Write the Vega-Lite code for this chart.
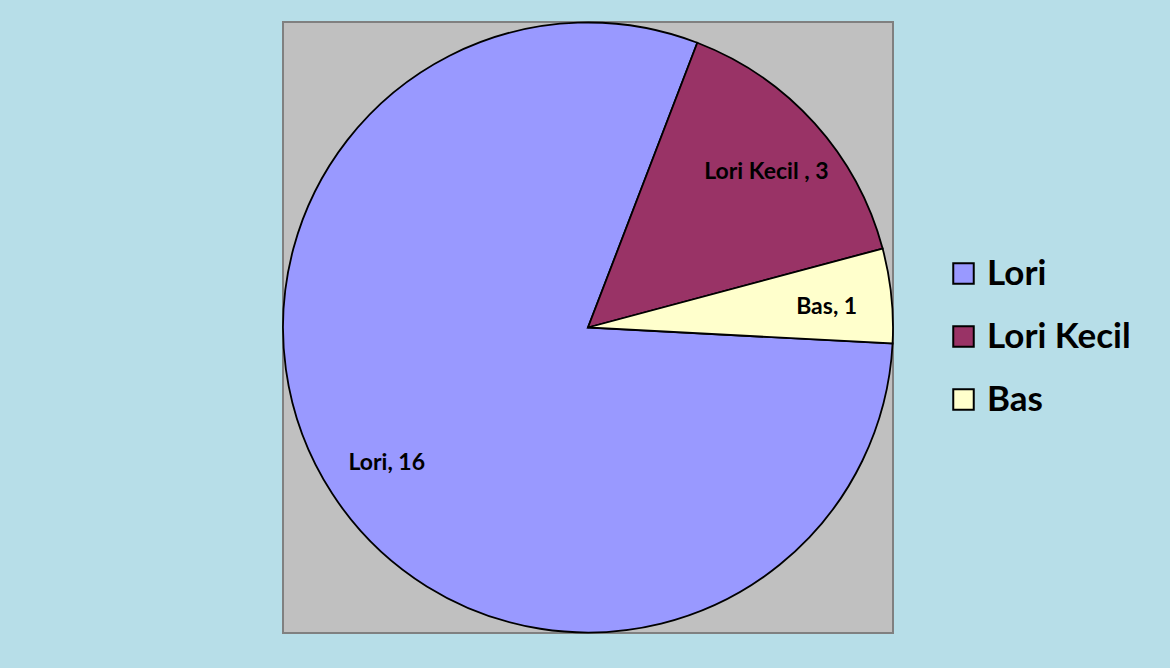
{
  "$schema": "https://vega.github.io/schema/vega-lite/v6.json",
  "autosize": {"type": "none"},
  "width": 610,
  "height": 611,
  "padding": {"left": 283, "top": 22, "right": 277, "bottom": 35},
  "background": "#B7DEE8",
  "view": {"fill": "#C0C0C0", "stroke": "#808080", "strokeWidth": 2},
  "config": {
    "view": {"fill": "#C0C0C0", "stroke": "#808080", "strokeWidth": 2},
    "font": "Lato"
  },
  "data": {
    "values": [
      {"kind": "Lori", "count": 16, "ord": 1, "label": "Lori, 16"},
      {"kind": "Lori Kecil", "count": 3, "ord": 2, "label": "Lori Kecil , 3"},
      {"kind": "Bas", "count": 1, "ord": 3, "label": "Bas, 1"}
    ]
  },
  "encoding": {
    "theta": {"field": "count", "type": "quantitative", "stack": true, "scale": {"range": [1.6232, 7.9064]}},
    "order": {"field": "ord", "type": "quantitative"}
  },
  "layer": [
    {
      "mark": {"type": "arc", "stroke": "#000000", "strokeWidth": 1.8},
      "encoding": {
        "color": {
          "field": "kind",
          "type": "nominal",
          "sort": ["Lori", "Lori Kecil", "Bas"],
          "scale": {"domain": ["Lori", "Lori Kecil", "Bas"], "range": ["#9999FF", "#993366", "#FFFFCC"]},
          "legend": {
            "title": null,
            "orient": "none",
            "legendX": 663,
            "legendY": 234,
            "symbolType": "square",
            "symbolSize": 420,
            "symbolStrokeColor": "#000000",
            "symbolStrokeWidth": 2,
            "symbolOpacity": 1,
            "labelFont": "Lato",
            "labelFontSize": 35,
            "labelFontWeight": "bold",
            "labelColor": "#000000",
            "labelOffset": 6,
            "rowPadding": 27,
            "labelLimit": 300
          }
        }
      }
    },
    {
      "mark": {"type": "text", "radius": 240, "dy": 5, "font": "Lato", "fontSize": 23, "fontWeight": "bold", "color": "#000000"},
      "encoding": {
        "text": {"field": "label", "type": "nominal"}
      }
    }
  ]
}
